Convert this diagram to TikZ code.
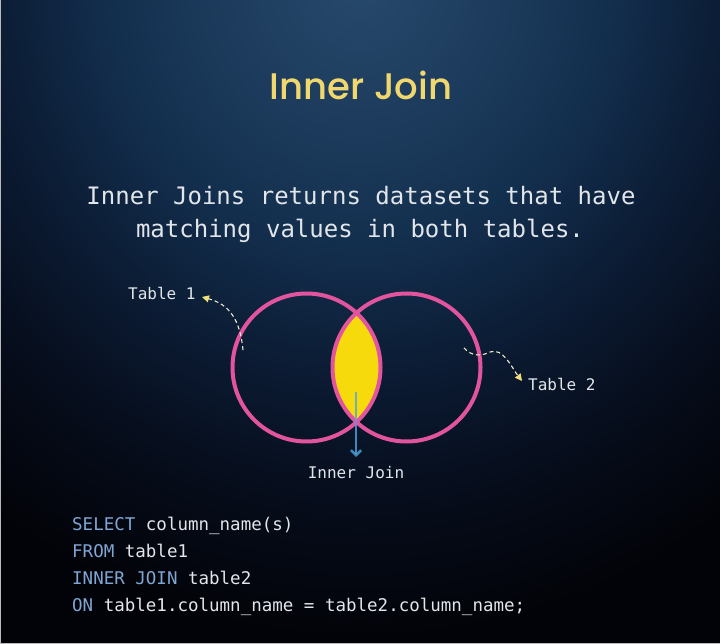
\documentclass[tikz,border=0pt]{standalone}
\usepackage{fontspec}
\setmonofont{DejaVu Sans Mono}
\newfontfamily\titlefont{Poppins Medium}
\usetikzlibrary{arrows.meta}

\definecolor{bgdark}{HTML}{020308}
\definecolor{ringpink}{HTML}{E2559E}
\definecolor{lensyellow}{HTML}{F6DA0C}
\definecolor{joinblue}{HTML}{4DA6E3}
\definecolor{keyblue}{HTML}{7FA6D4}
\definecolor{plaintext}{HTML}{E2E6EA}
\definecolor{dashcream}{HTML}{EDEBCF}
\definecolor{tipyellow}{HTML}{F1E07A}
\definecolor{titleyellow}{HTML}{F1D86E}
\definecolor{glowa}{HTML}{27496D}
\definecolor{glowb}{HTML}{1E3D5E}
\definecolor{glowc}{HTML}{132F4E}
\definecolor{glowd}{HTML}{0B1B33}
\definecolor{glowe}{HTML}{060C1A}

% soft glow from the top centre fading to near black
% (the shaded path is mapped onto the inner 25bp radius)
\pgfdeclareradialshading{bgglow}{\pgfpoint{0bp}{0bp}}{%
  color(0bp)=(glowa);
  color(5bp)=(glowb);
  color(10bp)=(glowc);
  color(15bp)=(glowd);
  color(20bp)=(glowe);
  color(25bp)=(bgdark);
  color(50bp)=(bgdark)}

\tikzset{
  ring/.style={circle, draw=ringpink, line width=4pt, minimum size=148pt, inner sep=0pt},
  tablelabel/.style={font=\ttfamily\fontsize{16}{18}\selectfont, text=plaintext, inner sep=0pt, anchor=base west},
  subline/.style={font=\ttfamily\fontsize{24}{28}\selectfont, text=plaintext, inner sep=0pt, anchor=base},
  codeline/.style={font=\ttfamily\fontsize{17.5}{20}\selectfont, text=plaintext, inner sep=0pt, anchor=base west},
  pointer/.style={dashed, dash pattern=on 4pt off 3pt, draw=dashcream, line width=1.1pt,
    -{Triangle[length=7pt,width=7pt,color=tipyellow,fill=tipyellow]}},
  joinarrow/.style={draw=joinblue, draw opacity=0.8, line width=2.6pt,
    -{Straight Barb[length=5pt,width=10pt]}},
}
\newcommand{\kw}[1]{\textcolor{keyblue}{#1}}

\begin{document}
\begin{tikzpicture}[x=1pt,y=-1pt]
\useasboundingbox (0,0) rectangle (720,644);

% background
\begin{scope}
  \clip (0,0) rectangle (720,644);
  \fill[bgdark] (0,0) rectangle (720,644);
  \shade[shading=bgglow] (360,-20) ellipse (620 and 660);
  \draw[gray!55, line width=1pt] (0.5,0) -- (0.5,643.5) -- (720,643.5);
\end{scope}

% title and description
\node[font=\titlefont\fontsize{37}{40}\selectfont, text=titleyellow, anchor=base, inner sep=0pt] (title) at (361,100) {Inner Join};
\node[subline] (sub1) at (361,205) {Inner Joins returns datasets that have};
\node[subline] (sub2) at (360,238) {matching values in both tables.};

% overlap of the two tables
\begin{scope}
  \clip (306.5,367.5) circle (74);
  \fill[lensyellow] (406.5,367.5) circle (74);
\end{scope}
\node[ring] (t1) at (306.5,367.5) {};
\node[ring] (t2) at (406.5,367.5) {};

% labels
\node[tablelabel] (lab1) at (128,300) {Table 1};
\node[tablelabel] (lab2) at (528,390) {Table 2};
\node[font=\ttfamily\fontsize{16}{18}\selectfont, text=plaintext, inner sep=0pt, anchor=base] (labj) at (356,478) {Inner Join};

% dashed pointers to the labels
\coordinate (p1s) at (243,350);
\coordinate (p1e) at (202,297);
\coordinate (p2s) at (464,348);
\coordinate (p2m) at (490,352);
\coordinate (p2e) at (522,381);
\draw[pointer] (p1s) .. controls (240,318) and (228,304) .. (p1e);
\draw[pointer] (p2s) .. controls (472,357) and (482,356) .. (p2m) .. controls (503,347) and (512,368) .. (p2e);

% arrow from the overlap to its label
\coordinate (jtop) at (356,392);
\coordinate (jbot) at (356,457);
\draw[joinarrow] (jtop) -- (jbot);

% SQL
\node[codeline] (c1) at (72,530) {\kw{SELECT} column\_name(s)};
\node[codeline] (c2) at (72,557) {\kw{FROM} table1};
\node[codeline] (c3) at (72,584) {\kw{INNER JOIN} table2};
\node[codeline] (c4) at (72,611) {\kw{ON} table1.column\_name = table2.column\_name;};
\end{tikzpicture}
\end{document}
